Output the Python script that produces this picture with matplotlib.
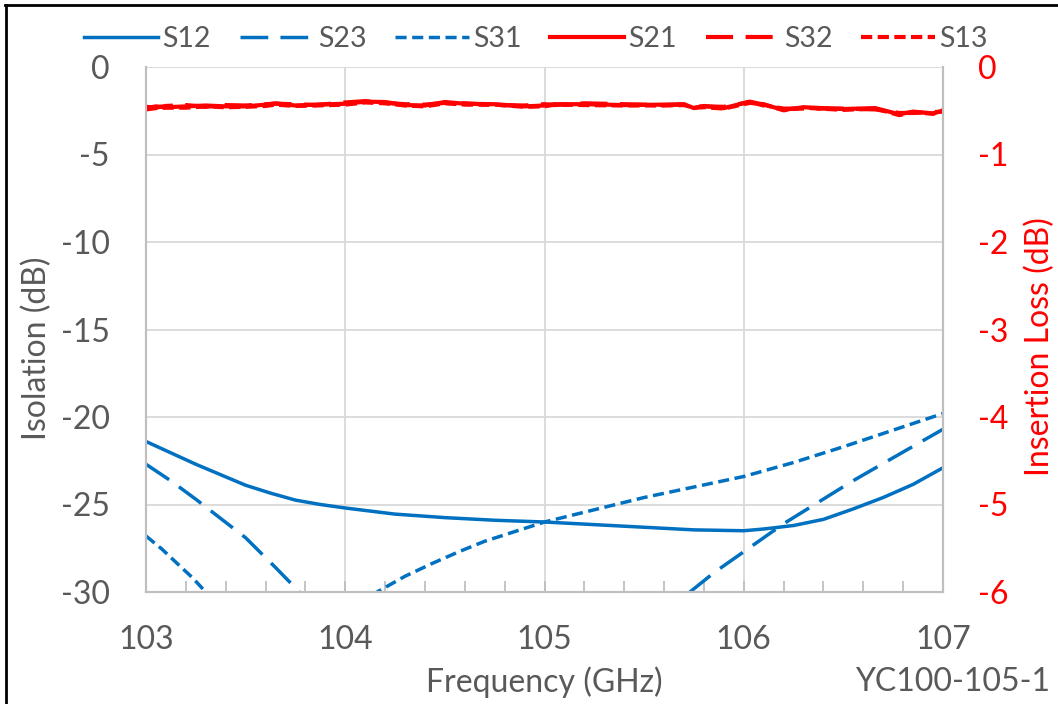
""" Isolation / insertion loss chart """
import matplotlib
matplotlib.use('Agg')
import matplotlib.pyplot as plt
from matplotlib.lines import Line2D
from matplotlib.ticker import MultipleLocator

plt.rcParams['font.family'] = ['Lato', 'DejaVu Sans']
plt.rcParams['axes.unicode_minus'] = False

BLUE = '#0070C0'
RED = '#FF0000'
GREY_TXT = '#595959'

# isolation curves (dB)
s12_f = [103.0, 103.125, 103.25, 103.375, 103.5, 103.625, 103.75, 103.875,
         104.0, 104.25, 104.5, 104.75, 105.0, 105.25, 105.5, 105.75, 106.0,
         106.1, 106.25, 106.4, 106.55, 106.7, 106.85, 107.0]
s12 = [-21.4, -22.05, -22.7, -23.3, -23.9, -24.35, -24.75, -25.0,
       -25.2, -25.55, -25.75, -25.9, -26.0, -26.15, -26.3, -26.45, -26.5,
       -26.4, -26.2, -25.85, -25.25, -24.6, -23.85, -22.9]

s23_f = [103.0, 103.125, 103.25, 103.375, 103.5, 103.65, 103.77, 104.0,
         104.5, 105.0, 105.5, 105.73, 105.85, 106.0, 106.1, 106.2, 106.37,
         106.54, 106.67, 106.8, 106.9, 107.0]
s23 = [-22.7, -23.65, -24.7, -25.8, -26.9, -28.6, -30.0, -32.5,
       -37.0, -38.0, -33.0, -30.0, -28.9, -27.7, -26.9, -26.1, -24.9,
       -23.7, -22.85, -22.0, -21.35, -20.7]

s31_f = [103.0, 103.08, 103.15, 103.23, 103.3, 103.6, 103.9, 104.16, 104.3,
         104.44, 104.57, 104.7, 104.85, 105.0, 105.25, 105.5, 105.75, 106.0,
         106.25, 106.5, 106.75, 107.0]
s31 = [-26.8, -27.55, -28.3, -29.15, -30.0, -33.0, -32.5, -30.0, -29.1,
       -28.35, -27.7, -27.1, -26.55, -26.0, -25.3, -24.6, -24.0, -23.4,
       -22.6, -21.7, -20.75, -19.8]

# insertion loss curves (dB)
il_f = [103.0, 103.05, 103.1, 103.2, 103.3, 103.4, 103.5, 103.6, 103.65,
        103.75, 103.85, 104.0, 104.1, 104.2, 104.3, 104.4, 104.5, 104.6,
        104.75, 104.9, 105.0, 105.05, 105.2, 105.4, 105.6, 105.7, 105.75,
        105.8, 105.9, 106.03, 106.1, 106.2, 106.3, 106.5, 106.66, 106.78,
        106.85, 106.95, 107.0]
s21 = [-0.47, -0.45, -0.46, -0.45, -0.44, -0.45, -0.45, -0.43, -0.415,
       -0.44, -0.43, -0.42, -0.396, -0.40, -0.435, -0.44, -0.40, -0.42,
       -0.425, -0.45, -0.44, -0.425, -0.425, -0.435, -0.43, -0.425, -0.47,
       -0.445, -0.47, -0.396, -0.43, -0.49, -0.46, -0.48, -0.47, -0.54,
       -0.51, -0.53, -0.50]
s32 = [-0.455, -0.465, -0.445, -0.435, -0.455, -0.435, -0.44, -0.425, -0.42,
       -0.425, -0.435, -0.405, -0.39, -0.41, -0.425, -0.43, -0.41, -0.415,
       -0.435, -0.44, -0.425, -0.435, -0.415, -0.425, -0.435, -0.43, -0.455,
       -0.45, -0.455, -0.40, -0.44, -0.475, -0.475, -0.475, -0.485, -0.525,
       -0.525, -0.515, -0.51]
s13 = [-0.485, -0.47, -0.465, -0.465, -0.45, -0.46, -0.455, -0.445, -0.43,
       -0.445, -0.44, -0.43, -0.405, -0.415, -0.44, -0.45, -0.415, -0.43,
       -0.43, -0.455, -0.45, -0.43, -0.435, -0.44, -0.44, -0.435, -0.465,
       -0.46, -0.475, -0.41, -0.425, -0.495, -0.465, -0.49, -0.475, -0.55,
       -0.515, -0.535, -0.495]

fig = plt.figure(figsize=(10.58, 7.04), dpi=100)
ax = fig.add_axes([146 / 1058, 112 / 704, 797 / 1058, 525 / 704])
ax2 = ax.twinx()

lw = 2.5
long_dash = (0, (8, 3.5))
short_dash = (0, (3.2, 1.6))

h1, = ax.plot(s12_f, s12, color=BLUE, lw=lw, label='S12')
h2, = ax.plot(s23_f, s23, color=BLUE, lw=lw, ls=long_dash, label='S23')
h3, = ax.plot(s31_f, s31, color=BLUE, lw=lw, ls=short_dash, label='S31')
h4, = ax2.plot(il_f, s21, color=RED, lw=3, label='S21')
h5, = ax2.plot(il_f, s32, color=RED, lw=3, ls=(0, (6.5, 3)), label='S32')
h6, = ax2.plot(il_f, s13, color=RED, lw=3, ls=(0, (2.7, 1.3)), label='S13')

ax.set_xlim(103, 107)
ax.set_ylim(-30, 0)
ax2.set_ylim(-6, 0)
ax.xaxis.set_major_locator(MultipleLocator(1))
ax.xaxis.set_minor_locator(MultipleLocator(0.2))
ax.yaxis.set_major_locator(MultipleLocator(5))
ax2.yaxis.set_major_locator(MultipleLocator(1))

ax.grid(True, color='#d9d9d9', lw=1.3)
ax.set_axisbelow(True)
for a in (ax, ax2):
    a.spines['top'].set_visible(False)
    for s in ('left', 'right', 'bottom'):
        a.spines[s].set_color('#bfbfbf')
        a.spines[s].set_linewidth(1.5)

ax.tick_params(axis='x', which='both', direction='in', length=8,
               color='#bfbfbf', width=1.3, labelsize=23, labelcolor=GREY_TXT,
               pad=24)
ax.tick_params(axis='y', length=0, labelsize=23, labelcolor=GREY_TXT, pad=26)
ax2.tick_params(axis='y', length=0, labelsize=23, labelcolor=RED, pad=25)

fig.text(544 / 1058, 1 - 682 / 704, 'Frequency (GHz)', ha='center',
         va='center', fontsize=23, color=GREY_TXT)
fig.text(37 / 1058, 1 - 348 / 704, 'Isolation (dB)', ha='center',
         va='center', rotation=90, fontsize=23, color=GREY_TXT)
fig.text(1040 / 1058, 1 - 347 / 704, 'Insertion Loss (dB)', ha='center',
         va='center', rotation=90, fontsize=23, color=RED)
fig.text(1050 / 1058, 1 - 682 / 704, 'YC100-105-1', ha='right',
         va='center', fontsize=23, color=GREY_TXT)

fig.legend(handles=[h1, h2, h3, h4, h5, h6], loc='center',
           bbox_to_anchor=(536 / 1058, 1 - 39 / 704), ncol=6, frameon=False,
           fontsize=20.5, handlelength=2.6, handletextpad=0.15,
           columnspacing=1.0, labelcolor=GREY_TXT)

# outer frame (top and left edges)
fig.add_artist(Line2D([5 / 1058, 1], [1 - 5 / 704, 1 - 5 / 704],
                      color='black', lw=2, transform=fig.transFigure))
fig.add_artist(Line2D([6 / 1058, 6 / 1058], [0, 1 - 5 / 704],
                      color='black', lw=2, transform=fig.transFigure))

fig.savefig('out.png', dpi=100)
